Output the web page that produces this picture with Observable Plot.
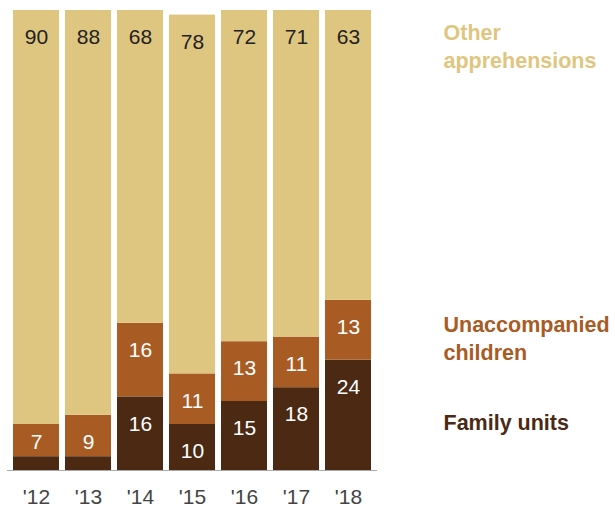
<!DOCTYPE html>
<html><head><meta charset="utf-8">
<script src="https://cdn.jsdelivr.net/npm/d3@7"></script>
<script src="https://cdn.jsdelivr.net/npm/@observablehq/plot@0.6"></script>
<style>html,body{margin:0;padding:0;background:#fff} svg{display:block}</style>
</head><body><div id="chart"></div>
<script>
const years = ["'12","'13","'14","'15","'16","'17","'18"];
const familyUnits = [3,3,16,10,15,18,24];
const unaccompanied = [7,9,16,11,13,11,13];
const other = [90,88,68,78,72,71,63];
const seriesNames = ["Family units","Unaccompanied children","Other apprehensions"];
const seriesColors = ["#4b2913","#a95b24","#dfc680"];
const valueTextColors = ["#ffffff","#ffffff","#222222"];

const rows = [];
years.forEach((yr, i) => {
  let base = 0;
  [familyUnits[i], unaccompanied[i], other[i]].forEach((v, s) => {
    rows.push({year: yr, series: seriesNames[s], s, value: v, y1: base, y2: base + v, mid: base + v / 2});
    base += v;
  });
});
const labeled = rows.filter(d => d.value >= 5);
const big = labeled.filter(d => d.value >= 8);
const small = labeled.filter(d => d.value < 8);
const last = years[years.length - 1];
const lastRows = rows.filter(d => d.year === last);

const chart = Plot.plot({
  width: 615,
  height: 510,
  marginLeft: 7,
  marginRight: 238,
  marginTop: 10,
  marginBottom: 40,
  style: {fontFamily: "'Liberation Sans', Arial, sans-serif", fontSize: "21px", background: "#fff"},
  x: {domain: years, paddingInner: 0.11, paddingOuter: 0.1, label: null},
  y: {domain: [0, 100], axis: null},
  color: {domain: seriesNames, range: seriesColors},
  marks: [
    Plot.rectY(rows, {x: "year", y1: "y1", y2: "y2", fill: "series", insetLeft: 0, insetRight: 0}),
    Plot.ruleY([0], {stroke: "#a8a8a8", strokeWidth: 1.2}),
    Plot.text(big, {x: "year", y: "y2", dy: 27, text: d => String(d.value), fill: d => valueTextColors[d.s], fontSize: 21}),
    Plot.text(small, {x: "year", y: "mid", dy: 2, text: d => String(d.value), fill: d => valueTextColors[d.s], fontSize: 21}),
    Plot.text(lastRows.filter(d => d.s === 2), {frameAnchor: "right", y: "y2", dx: 66, dy: 35, text: d => "Other\napprehensions", textAnchor: "start", lineHeight: 1.3, fill: seriesColors[2], fontWeight: "bold", fontSize: 21.5}),
    Plot.text(lastRows.filter(d => d.s === 1), {frameAnchor: "right", y: "y2", dx: 66, dy: 37, text: d => "Unaccompanied\nchildren", textAnchor: "start", lineHeight: 1.3, fill: seriesColors[1], fontWeight: "bold", fontSize: 21.5}),
    Plot.text(lastRows.filter(d => d.s === 0), {frameAnchor: "right", y: "mid", dx: 66, dy: 8, text: d => "Family units", textAnchor: "start", fill: seriesColors[0], fontWeight: "bold", fontSize: 21.5}),
    Plot.axisX({tickSize: 0, tickPadding: 19, fontSize: 21, fill: "#444", label: null})
  ]
});
document.getElementById("chart").appendChild(chart);
</script>
</body></html>
